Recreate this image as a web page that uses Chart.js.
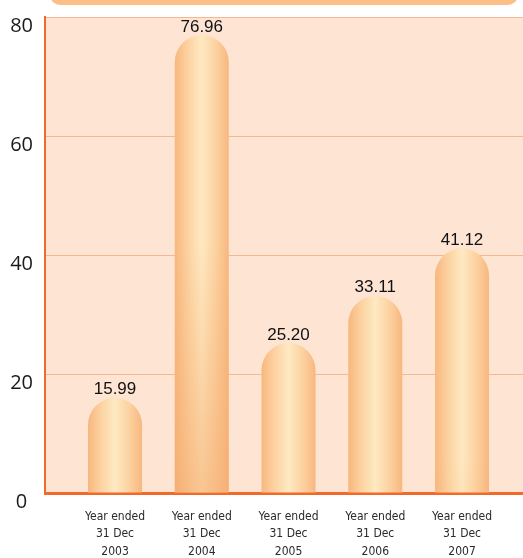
<!DOCTYPE html>
<html>
<head>
<meta charset="utf-8">
<script src="https://cdn.jsdelivr.net/npm/chart.js@4"></script>
<style>
  html, body { margin: 0; padding: 0; background: #ffffff; }
  #wrap { width: 523px; height: 558px; }
</style>
</head>
<body>
<div id="wrap"><canvas id="c" width="523" height="558"></canvas></div>
<script>
const categories = [
  ['Year ended', '31 Dec', '2003'],
  ['Year ended', '31 Dec', '2004'],
  ['Year ended', '31 Dec', '2005'],
  ['Year ended', '31 Dec', '2006'],
  ['Year ended', '31 Dec', '2007']
];
const values = [15.99, 76.96, 25.20, 33.11, 41.12];
const yTicks = [0, 20, 40, 60, 80];

const ORANGE = '#f26a2b';
const BAR_PCT = 0.6225;

function barGradient(context) {
  const chart = context.chart;
  const xs = chart.scales.x;
  if (!xs || !chart.chartArea) return '#fbcf9f';
  const i = context.dataIndex;
  const cx = xs.getPixelForValue(i);
  const half = Math.abs(xs.getPixelForValue(1) - xs.getPixelForValue(0)) * BAR_PCT / 2;
  const g = chart.ctx.createLinearGradient(cx - half, 0, cx + half, 0);
  g.addColorStop(0, '#f8b77e');
  g.addColorStop(0.25, '#fcd3a2');
  g.addColorStop(0.5, '#fee9c2');
  g.addColorStop(0.75, '#fcd3a2');
  g.addColorStop(1, '#f8b77e');
  return g;
}

const decorPlugin = {
  id: 'decor',
  beforeDraw(chart) {
    const { ctx, chartArea } = chart;
    ctx.save();
    ctx.fillStyle = '#ffffff';
    ctx.fillRect(0, 0, chart.width, chart.height);
    ctx.fillStyle = '#fbbf87';
    ctx.beginPath();
    ctx.roundRect(50, -25, 468, 30, 10);
    ctx.fill();
    ctx.fillStyle = '#fde4d3';
    ctx.fillRect(chartArea.left, chartArea.top, chartArea.right - chartArea.left, chartArea.bottom - chartArea.top);
    ctx.restore();
  },
  afterDatasetsDraw(chart) {
    const { ctx } = chart;
    const meta = chart.getDatasetMeta(0);
    ctx.save();
    meta.data.forEach((el, i) => {
      const w = el.width;
      const capTop = el.y + w / 2;
      const h = el.base - capTop;
      if (h > 0) {
        const g = ctx.createLinearGradient(0, el.y, 0, el.y + 460);
        g.addColorStop(0, 'rgba(244,168,106,0)');
        g.addColorStop(0.45, 'rgba(244,168,106,0)');
        g.addColorStop(1, 'rgba(244,168,106,0.55)');
        ctx.fillStyle = g;
        ctx.fillRect(el.x - w / 2, capTop, w, h);
      }
      ctx.fillStyle = '#111111';
      ctx.font = '17px "Liberation Sans", Arial, sans-serif';
      ctx.textAlign = 'center';
      ctx.textBaseline = 'alphabetic';
      ctx.fillText(values[i].toFixed(2), el.x, el.y - 3.5);
    });
    ctx.restore();
  }
};

new Chart(document.getElementById('c'), {
  type: 'bar',
  data: {
    datasets: [{
      data: values.map((v, i) => ({ x: i, y: v })),
      backgroundColor: barGradient,
      borderWidth: 0,
      borderRadius: { topLeft: 27, topRight: 27, bottomLeft: 0, bottomRight: 0 },
      borderSkipped: 'bottom',
      barPercentage: BAR_PCT,
      categoryPercentage: 1
    }]
  },
  options: {
    responsive: false,
    animation: false,
    layout: { padding: { top: 17, right: 0, left: 0, bottom: 0 } },
    plugins: { legend: { display: false }, tooltip: { enabled: false } },
    scales: {
      x: {
        type: 'linear',
        offset: false,
        min: -0.807,
        max: 4.703,
        afterBuildTicks: (scale) => { scale.ticks = categories.map((_, i) => ({ value: i })); },
        afterFit: (scale) => { scale.height = 65; scale.paddingLeft = 0; scale.paddingRight = 0; },
        grid: { color: 'rgba(0,0,0,0)', drawTicks: false },
        border: { display: true, color: ORANGE, width: 3 },
        ticks: {
          autoSkip: false,
          maxRotation: 0,
          padding: 15,
          color: '#2a2a2a',
          font: { family: '"DejaVu Sans Condensed", "Liberation Sans Narrow", sans-serif', size: 12, lineHeight: 1.45 },
          callback: (v) => categories[v]
        }
      },
      y: {
        min: 0,
        max: 80,
        afterBuildTicks: (scale) => { scale.ticks = yTicks.map(v => ({ value: v })); },
        afterFit: (scale) => { scale.width = 45; scale.paddingTop = 0; scale.paddingBottom = 0; },
        grid: { color: '#f7b88f', lineWidth: 1, drawTicks: false },
        border: { display: true, color: ORANGE, width: 2 },
        ticks: {
          padding: 12,
          crossAlign: 'center',
          labelOffset: 9,
          color: '#1a1a1a',
          font: { family: '"Open Sans", "Noto Sans", sans-serif', size: 20, weight: '400' }
        }
      }
    }
  },
  plugins: [decorPlugin]
});
</script>
</body>
</html>
